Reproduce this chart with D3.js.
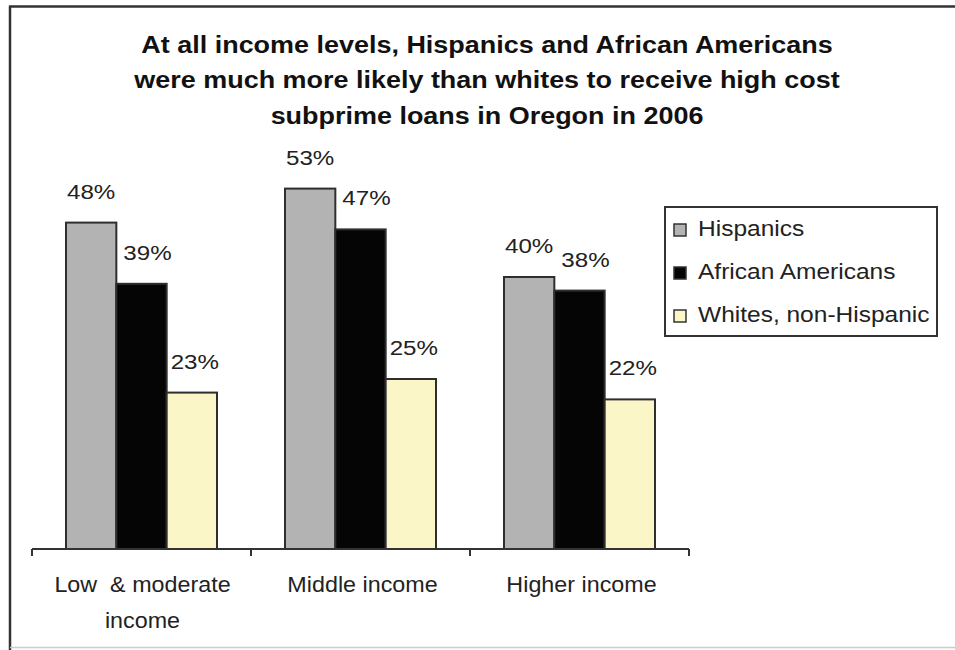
<!DOCTYPE html>
<html>
<head>
<meta charset="utf-8">
<script src="https://cdn.jsdelivr.net/npm/d3@7"></script>
<style>
  html, body { margin: 0; padding: 0; background: #fff; }
  svg { display: block; font-family: "Liberation Sans", Arial, sans-serif; }
  text.cat { white-space: pre; }
</style>
</head>
<body>
<svg id="chart" width="955" height="650"></svg>
<script>
// Income groups along the x axis (each label may wrap onto two lines)
const categories = ["Low & moderate income", "Middle income", "Higher income"];
const categoryLines = [["Low  & moderate", "income"], ["Middle income"], ["Higher income"]];

// Share of loans that were high cost subprime, by group (%)
const seriesNames = ["Hispanics", "African Americans", "Whites, non-Hispanic"];
const hispanics = [48, 53, 40];
const africanAmericans = [39, 47, 38];
const whites = [23, 25, 22];
const seriesColors = ["#b3b3b3", "#050505", "#faf6c8"];

const titleLines = [
  "At all income levels, Hispanics and African Americans",
  "were much more likely than whites to receive high cost",
  "subprime loans in Oregon in 2006"
];

const seriesValues = [hispanics, africanAmericans, whites];

const svg = d3.select("#chart");
const W = 955, H = 650;

// Place text at (x, y) with a slight horizontal widening of the glyphs
function place(sel, fx, fy, sx) {
  sel.attr("transform", (d, i) => `translate(${fx(d, i)},${fy(d, i)}) scale(${sx},1)`);
}

// Outer frame
svg.append("line").attr("x1", 9).attr("x2", W).attr("y1", 6.5).attr("y2", 6.5)
  .attr("stroke", "#333").attr("stroke-width", 2.5);
svg.append("line").attr("x1", 10).attr("x2", 10).attr("y1", 6).attr("y2", H)
  .attr("stroke", "#333").attr("stroke-width", 2.5);
svg.append("line").attr("x1", 10).attr("x2", W).attr("y1", 647.5).attr("y2", 647.5)
  .attr("stroke", "#ccc").attr("stroke-width", 1.5);

// Title
svg.append("g").selectAll("text").data(titleLines).join("text")
  .call(place, () => 487, (d, i) => 53 + i * 35.3, 1.1)
  .attr("text-anchor", "middle")
  .attr("font-size", 24.5).attr("font-weight", "bold").attr("fill", "#111")
  .text(d => d);

// Scales
const plotLeft = 32, plotRight = 689, baseY = 549;
const x0 = d3.scaleBand().domain(categories).range([plotLeft, plotRight])
  .paddingInner(0).paddingOuter(0);
const groupPad = 34;
const x1 = d3.scaleBand().domain(seriesNames)
  .range([groupPad, x0.bandwidth() - groupPad]).padding(0);
const y = d3.scaleLinear().domain([0, 60]).range([baseY, baseY - 60 * 6.8]);

// Bars
const groups = svg.append("g").selectAll("g").data(categories).join("g")
  .attr("transform", d => `translate(${x0(d)},0)`);

const cells = (c, ci) => seriesNames.map((s, si) => ({ s, si, v: seriesValues[si][ci] }));

groups.selectAll("rect").data(cells).join("rect")
  .attr("x", d => x1(d.s))
  .attr("y", d => y(d.v))
  .attr("width", x1.bandwidth())
  .attr("height", d => baseY - y(d.v))
  .attr("fill", d => seriesColors[d.si])
  .attr("stroke", "#2e2e2e").attr("stroke-width", 2);

// Value labels (nudged right for the later series so they clear the taller neighbour)
const labelNudge = [0, 6, 3];
groups.selectAll("text.val").data(cells).join("text").attr("class", "val")
  .call(place, d => x1(d.s) + x1.bandwidth() / 2 + labelNudge[d.si], d => y(d.v) - 24, 1.15)
  .attr("text-anchor", "middle")
  .attr("font-size", 21).attr("fill", "#222")
  .text(d => d.v + "%");

// X axis with ticks on category boundaries
const axis = svg.append("g");
axis.append("line").attr("x1", plotLeft).attr("x2", plotRight)
  .attr("y1", baseY).attr("y2", baseY).attr("stroke", "#333").attr("stroke-width", 2);
const tickXs = categories.map(c => x0(c)).concat([plotRight]);
axis.selectAll("line.tick").data(tickXs).join("line").attr("class", "tick")
  .attr("x1", d => d).attr("x2", d => d).attr("y1", baseY).attr("y2", baseY + 7)
  .attr("stroke", "#333").attr("stroke-width", 2);

// Category labels
categories.forEach((c, i) => {
  svg.append("g").selectAll("text").data(categoryLines[i]).join("text")
    .attr("class", "cat")
    .call(place, () => x0(c) + x0.bandwidth() / 2 + (i === 0 ? 1 : 2), (d, j) => 592 + j * 36, 1.06)
    .attr("text-anchor", "middle")
    .attr("font-size", 22).attr("fill", "#222")
    .text(d => d);
});

// Legend
const legend = svg.append("g").attr("transform", "translate(665,207)");
legend.append("rect").attr("x", 0).attr("y", 0).attr("width", 272).attr("height", 129)
  .attr("fill", "#fff").attr("stroke", "#333").attr("stroke-width", 2);
const items = legend.selectAll("g").data(seriesNames).join("g")
  .attr("transform", (d, i) => `translate(0,${21 + i * 43})`);
items.append("rect").attr("x", 9).attr("y", -4).attr("width", 12).attr("height", 12)
  .attr("fill", (d, i) => seriesColors[i]).attr("stroke", "#333").attr("stroke-width", 1.5);
items.append("text")
  .call(place, () => 33, () => 8, 1.14)
  .attr("font-size", 21.5).attr("fill", "#222")
  .text(d => d);
</script>
</body>
</html>
